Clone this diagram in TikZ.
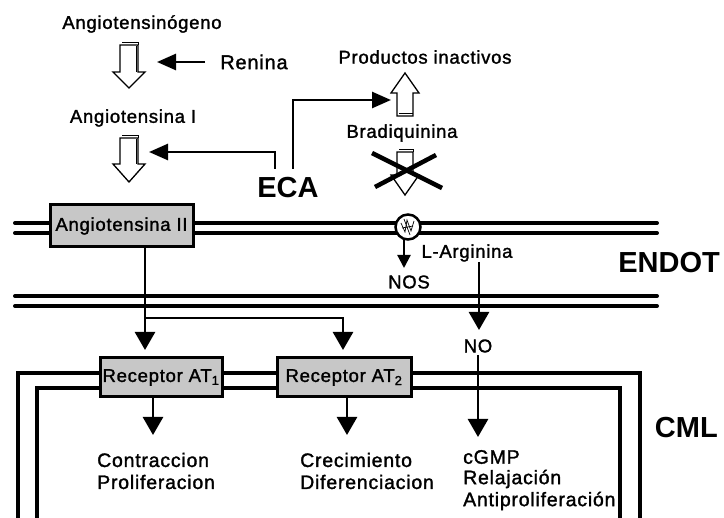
\documentclass[tikz,border=0pt]{standalone}
\usepackage{fontspec}
\setmainfont{Liberation Sans}
\newfontfamily\lblfont{Liberation Sans}[LetterSpace=4, FakeBold=1.5]
\usetikzlibrary{arrows.meta}

\tikzset{
  lbl/.style={font=\lblfont\fontsize{18.5}{21}\selectfont, inner sep=0pt},
  lowlbl/.style={font=\lblfont\fontsize{19.5}{22}\selectfont, inner sep=0pt, anchor=west},
  big/.style={font=\bfseries\fontsize{29}{31}\selectfont, inner sep=0pt},
  membrane/.style={line width=4pt, line cap=round},
  wall/.style={line width=4.5pt, line join=miter},
  flow/.style={line width=2.6pt, -{Triangle[width=20pt,length=18pt]}},
  thinflow/.style={line width=2.6pt, -{Triangle[width=16pt,length=19pt]}},
  smallflow/.style={line width=2.2pt, -{Triangle[width=13pt,length=13pt]}},
  hollow/.style={draw, line width=1.3pt, fill=white, line join=miter},
  rim/.style={line width=1pt},
  site/.style={draw, line width=3pt, fill=black!22, inner sep=0pt,
    font=\lblfont\fontsize{18.5}{21}\selectfont},
  cross/.style={line width=4.5pt}
}

\begin{document}
\begin{tikzpicture}[x=1pt, y=-1pt]
\useasboundingbox[fill=white] (0,0) rectangle (724,518);

% ---- extracellular cascade ----
\node[lbl] (agn) at (142,24) {Angiotensinógeno};
\draw[hollow, shift={(129,45)}] (-9,0) -- (9,0) -- (9,27) -- (16,27) -- (0,43) -- (-16,27) -- (-9,27) -- cycle;
\draw[rim, shift={(129,45)}] (-7,-2) -- (9,-2) -- (9,0) (7,1) -- (7,27);
\node[lbl, font=\lblfont\fontsize{20}{22}\selectfont] (ren) at (254,62) {Renina};
\coordinate (renS) at (205,62);
\coordinate (renT) at (157,62);
\draw[thinflow] (renS) -- (renT);

\node[lbl] (ang1) at (133,118) {Angiotensina I};
\draw[hollow, shift={(129,138)}] (-9,0) -- (9,0) -- (9,26) -- (16,26) -- (0,44) -- (-16,26) -- (-9,26) -- cycle;
\draw[rim, shift={(129,138)}] (-7,-2) -- (9,-2) -- (9,0) (7,1) -- (7,26);

\node[big] (eca) at (288,188) {ECA};
\coordinate (ecaL) at (275,169);
\coordinate (ecaLT) at (149,152);
\draw[thinflow] (ecaL) |- (ecaLT);
\coordinate (ecaR) at (293,169);
\coordinate (ecaRT) at (391,100);
\draw[thinflow] (ecaR) |- (ecaRT);

\node[lbl] (prod) at (425,57) {Productos inactivos};
\draw[hollow, shift={(405,116)}] (-8,0) -- (8,0) -- (8,-23) -- (14,-23) -- (0,-43) -- (-14,-23) -- (-8,-23) -- cycle;
\draw[rim, shift={(405,116)}] (-6,-2) -- (8,-2);
\node[lbl] (brad) at (402,133) {Bradiquinina};
\draw[hollow, shift={(405,152)}] (-8,0) -- (8,0) -- (8,23) -- (14,23) -- (0,43) -- (-14,23) -- (-8,23) -- cycle;
\draw[rim, shift={(405,152)}] (-6,-2) -- (8,-2) -- (8,0);
\draw[cross] (372,153) -- (442,188);
\draw[cross] (375,187) -- (436,155);

% ---- endothelium ----
\draw[membrane] (15,223) -- (657,223);
\draw[membrane] (15,233) -- (657,233);
\draw[membrane] (15,296) -- (657,296);
\draw[membrane] (15,306) -- (657,306);

\node[site, minimum width=143pt, minimum height=42pt] (ang2) at (121.5,226) {Angiotensina II};

\node[circle, draw, line width=2.5pt, fill=white, minimum size=25pt, inner sep=0pt] (pore) at (408,227) {};
\draw[line width=0.7pt] (401,223) -- (405,232) -- (407,220) -- (411,231) -- (414,221);
\draw[line width=0.7pt] (402,228) -- (413,226) (404,219) -- (410,235);

\coordinate (nosS) at (404,240);
\coordinate (nosT) at (404,268);
\draw[smallflow] (nosS) -- (nosT);
\node[lbl] (nos) at (409,282) {NOS};
\node[lbl] (larg) at (467,253) {L-Arginina};
\coordinate (largS) at (479,262);
\coordinate (largT) at (479,330);
\draw[flow] (largS) -- (largT);
\node[lbl] (no) at (478,346) {NO};

\node[big, anchor=east] (endot) at (720,263) {ENDOT};

% ---- smooth muscle cell ----
\draw[wall] (18,518) -- (18,373) -- (640,373) -- (640,518);
\draw[wall] (37,518) -- (37,388) -- (620,388) -- (620,518);

\node[site, minimum width=122pt, minimum height=39pt] (at1) at (161,377.5) {Receptor AT\textsubscript{1}};
\node[site, minimum width=134pt, minimum height=39pt] (at2) at (344,377.5) {Receptor AT\textsubscript{2}};

\coordinate (a2S) at (145,247);
\coordinate (a2T) at (145,350);
\coordinate (a2B) at (145,318);
\coordinate (a2R) at (343,350);
\draw[flow] (a2S) -- (a2T);
\draw[flow] (a2B) -| (a2R);

\coordinate (r1S) at (153,397);
\coordinate (r1T) at (153,435);
\draw[flow] (r1S) -- (r1T);
\coordinate (r2S) at (347,397);
\coordinate (r2T) at (347,435);
\draw[flow] (r2S) -- (r2T);
\coordinate (noS) at (478,355);
\coordinate (noT) at (478,437);
\draw[flow] (noS) -- (noT);

\node[lowlbl] (con) at (97,460) {Contraccion};
\node[lowlbl] (pro) at (97,482) {Proliferacion};
\node[lowlbl] (cre) at (300,460) {Crecimiento};
\node[lowlbl] (dif) at (300,482) {Diferenciacion};
\node[lowlbl] (cgmp) at (463,457) {cGMP};
\node[lowlbl] (rel) at (463,479) {Relajación};
\node[lowlbl] (anti) at (463,501) {Antiproliferación};

\node[big, anchor=east] (cml) at (718,428) {CML};
\end{tikzpicture}
\end{document}
